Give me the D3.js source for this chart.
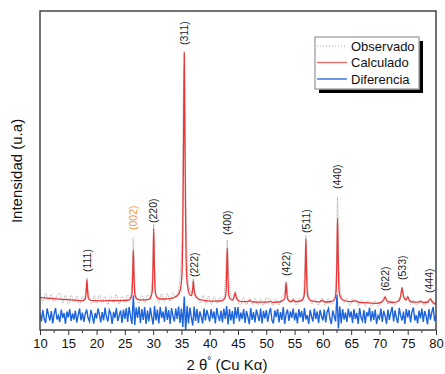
<!DOCTYPE html>
<html>
<head>
<meta charset="utf-8">
<script src="https://cdn.jsdelivr.net/npm/d3@7"></script>
<style>
  body { margin: 0; background: #fff; }
  svg text { font-family: "Liberation Sans", Arial, sans-serif; }
</style>
</head>
<body>
<svg id="chart" width="445" height="374"></svg>
<script>
// observed pattern, [2theta, intensity]
const observed = [[10,360],[10.5,280],[11,370],[11.5,290],[12,355],[12.5,275],[13,350],[13.5,365],[14,270],[14.5,345],[15,260],[15.5,350],[16,275],[16.5,340],[17,255],[17.5,335],[17.8,300],[18.1,420],[18.3,520],[18.5,400],[18.8,330],[19.2,255],[19.6,345],[20,260],[20.5,350],[21,270],[21.5,340],[22,255],[22.5,345],[23,270],[23.5,355],[24,260],[24.5,340],[25,275],[25.5,350],[26,300],[26.3,560],[26.5,930],[26.7,520],[27,340],[27.5,270],[28,355],[28.5,275],[29,350],[29.5,330],[29.9,620],[30.1,1060],[30.3,560],[30.6,350],[31,275],[31.5,360],[32,280],[32.5,365],[33,290],[33.5,375],[34,330],[34.6,440],[35.1,900],[35.3,2100],[35.5,2790],[35.7,1700],[36,700],[36.4,420],[36.8,370],[37.1,520],[37.4,360],[37.8,340],[38.3,270],[38.8,345],[39.3,260],[39.8,340],[40.3,255],[40.8,335],[41.3,260],[41.8,330],[42.4,300],[42.8,540],[43.1,900],[43.4,500],[43.8,330],[44.1,290],[44.5,390],[44.9,300],[45.5,250],[46,325],[46.5,250],[47.1,320],[47.6,245],[48,320],[48.5,245],[49,315],[49.5,245],[50,320],[50.7,305],[51.2,245],[51.7,315],[52.2,250],[52.7,320],[53.2,380],[53.5,490],[53.8,360],[54.2,270],[54.8,320],[55.3,250],[55.8,320],[56.4,300],[56.8,620],[57,950],[57.2,600],[57.6,320],[58.1,260],[58.6,315],[59.2,250],[59.9,320],[60.4,245],[61,315],[61.6,255],[62.1,320],[62.4,700],[62.6,1330],[62.8,700],[63.2,360],[63.7,270],[64.2,320],[64.8,245],[65.3,310],[65.8,300],[66.3,240],[66.9,305],[67.5,240],[68,300],[68.6,235],[69.2,295],[69.8,235],[70.4,295],[71,340],[71.5,260],[72,300],[72.6,245],[73.2,300],[73.7,330],[74,430],[74.3,320],[75,340],[75.5,255],[76,300],[76.6,245],[77.3,300],[77.9,240],[78.5,295],[79,320],[79.5,245],[80,280]];

// calculated pattern, [2theta, intensity]
const calculated = [[10,323],[12,316],[14,307],[16,298],[17.5,292],
  [17.8,300],[18.05,317],[18.2,406],[18.3,500],[18.4,406],[18.55,317],[18.8,300],
  [19.5,293],[21,292],[23,293],[25,296],[25.8,302],
  [26,318],[26.25,358],[26.4,574],[26.5,800],[26.6,574],[26.75,358],[27,318],
  [27.6,302],[28.6,302],[29.4,312],
  [29.6,333],[29.85,390],[30,693],[30.1,1010],[30.2,693],[30.35,390],[30.6,333],
  [31.2,310],[32.5,312],[33.5,322],[34.3,345],[34.8,400],[35.1,560],[35.3,1350],[35.4,2100],[35.5,2770],[35.6,2100],[35.7,1350],[35.9,560],[36.2,400],[36.5,350],
  [36.8,345],[36.95,395],[37.05,440],[37.1,490],[37.2,420],[37.35,365],[37.6,330],
  [38.2,305],[39.5,292],[41,288],[42.2,293],[42.6,310],
  [42.85,354],[43,582],[43.1,820],[43.2,582],[43.35,354],[43.6,311],
  [44,300],[44.3,330],[44.5,370],[44.7,325],[45.1,292],[46,283],[46.8,285],[47.1,295],[47.4,283],[48.5,278],[50.3,278],[50.7,288],[51.1,277],[52.3,280],[53,300],
  [53.25,315],[53.4,390],[53.5,470],[53.6,390],[53.75,315],[54,292],
  [54.5,285],[54.8,300],[55.1,284],[56,290],[56.5,310],
  [56.75,364],[56.9,631],[57,910],[57.1,631],[57.25,364],[57.5,315],
  [58,292],[59.4,282],[59.9,295],[60.4,280],[61.5,285],[62.1,310],
  [62.35,394],[62.5,749],[62.6,1120],[62.7,749],[62.85,394],[63.1,328],
  [63.6,300],[64.8,283],[65.8,292],[66.5,276],[68,272],[69.5,266],[70.4,278],[70.8,305],[71,330],[71.2,305],[71.6,280],[72.6,277],[73.4,290],[73.75,340],[73.9,390],[74,420],[74.1,390],[74.3,330],[74.7,300],[75,330],[75.3,295],[75.8,280],[76.8,278],[77.3,285],[77.8,275],[78.6,280],[79,310],[79.4,280],[80,258]];

// difference curve (offset), sampled from 10 deg every 0.25 deg
const diffStart = 10, diffStep = 0.25;
const difference = [
  175,85,200,110,70,215,150,95,190,65,160,220,105,145,80,205,120,170,60,185,
  125,210,90,165,105,195,75,150,215,95,175,80,160,205,120,85,200,140,65,170,
  115,215,155,75,180,95,225,130,85,200,165,60,180,120,220,90,145,195,70,205,
  110,220,80,230,140,60,345,50,225,120,235,70,210,100,230,60,195,85,225,130,
  55,240,95,205,65,230,120,185,80,235,100,200,60,220,140,85,215,110,235,70,
  215,30,335,-10,240,65,225,125,45,235,90,210,70,185,135,65,215,95,200,140,
  85,210,115,185,65,220,140,90,195,75,215,110,240,55,210,95,190,60,230,115,
  230,85,175,110,210,70,190,130,60,220,100,180,75,205,145,90,215,65,190,115,
  200,80,170,220,100,65,195,130,210,75,180,100,230,60,160,205,90,185,120,215,
  95,175,65,210,125,190,80,220,105,150,60,200,135,85,215,110,185,70,200,140,
  95,205,75,180,215,115,60,195,140,85,355,15,235,65,210,105,175,80,215,125,
  185,70,210,110,170,60,220,125,90,200,65,180,135,225,85,190,100,205,60,145,
  115,215,80,190,140,60,205,100,175,230,85,195,120,70,220,145,95,185,60,210,
  125,200,75,180,225,95,150,65,195,115,215,80,190,140,55,210,105,175,230,90,
  150];

// reflections: label, 2theta, intensity where the label starts
const hkl = ["(111)","(002)","(220)","(311)","(222)","(400)","(422)","(511)","(440)","(622)","(533)","(444)"];
const hklPos = [18.3, 26.5, 30.1, 35.5, 37.2, 43.1, 53.5, 57.0, 62.6, 71.0, 74.0, 78.9];
const hklLabelAt = [580, 1000, 1070, 2850, 530, 950, 540, 970, 1410, 390, 500, 370];

const xTicks = d3.range(10, 81, 5);
const legendNames = ["Observado", "Calculado", "Diferencia"];

const svg = d3.select("#chart");
const [pLeft, pRight, pTop, pBottom] = [40, 436, 11, 330];

const x = d3.scaleLinear().domain([10, 80]).range([pLeft, pRight]);
const y = d3.scaleLinear().domain([0, 3190]).range([pBottom, pTop]);

svg.append("clipPath").attr("id", "clip")
  .append("rect").attr("x", pLeft).attr("y", pTop).attr("width", pRight - pLeft).attr("height", pBottom - pTop);

const plot = svg.append("g").attr("clip-path", "url(#clip)");

// observed (dotted grey)
plot.append("path").datum(observed)
  .attr("d", d3.line().x(d => x(d[0])).y(d => y(d[1])).curve(d3.curveMonotoneX))
  .attr("fill", "none").attr("stroke", "#aaa").attr("stroke-width", 1)
  .attr("stroke-dasharray", "1,1");

// difference (blue)
plot.append("path").datum(difference.map((v, i) => [diffStart + i * diffStep, v]))
  .attr("d", d3.line().x(d => x(d[0])).y(d => y(d[1])))
  .attr("fill", "none").attr("stroke", "#1c64dc").attr("stroke-width", 1.4);

// calculated (red)
plot.append("path").datum(calculated)
  .attr("d", d3.line().x(d => x(d[0])).y(d => y(d[1])).curve(d3.curveMonotoneX))
  .attr("fill", "none").attr("stroke", "#ee3535").attr("stroke-width", 1.3);

// reflection labels
hkl.forEach((t, i) => {
  const px = x(hklPos[i]), py = y(hklLabelAt[i]);
  svg.append("text")
    .attr("transform", `translate(${px},${py}) rotate(-90)`)
    .attr("dy", "0.35em")
    .attr("font-size", 10.5)
    .attr("fill", t === "(002)" ? "#f39a3c" : "#222")
    .text(t);
});

// x axis
const xAxis = d3.axisBottom(x).tickValues(xTicks).tickSize(5).tickPadding(4).tickFormat(d3.format("d"));
const gx = svg.append("g").attr("transform", `translate(0,${pBottom})`).call(xAxis);
gx.select(".domain").remove();
gx.selectAll("line").attr("stroke", "#333");
gx.selectAll("text").attr("font-size", 13).attr("fill", "#111")
  .attr("font-family", "'Liberation Sans', Arial, sans-serif");
svg.append("g").attr("transform", `translate(0,${pBottom})`)
  .selectAll("line").data(d3.range(12.5, 80, 5)).enter().append("line")
  .attr("x1", d => x(d)).attr("x2", d => x(d)).attr("y1", 0).attr("y2", 3)
  .attr("stroke", "#333");

// frame
svg.append("rect").attr("x", pLeft).attr("y", pTop).attr("width", pRight - pLeft).attr("height", pBottom - pTop)
  .attr("fill", "none").attr("stroke", "#444").attr("stroke-width", 1.5);

// axis titles
const xt = svg.append("text").attr("x", 227).attr("y", 370).attr("text-anchor", "middle")
  .attr("font-size", 15).attr("fill", "#111");
xt.append("tspan").text("2 θ");
xt.append("tspan").attr("font-size", 10).attr("dy", -6).text("°");
xt.append("tspan").attr("dy", 6).text(" (Cu Kα)");

svg.append("text").attr("transform", "translate(22,171) rotate(-90)")
  .attr("text-anchor", "middle").attr("font-size", 15).attr("fill", "#111")
  .text("Intensidad (u.a)");

// legend
const lg = svg.append("g").attr("transform", "translate(315,37)");
lg.append("rect").attr("x", 4).attr("y", 4).attr("width", 104).attr("height", 52).attr("fill", "#000");
lg.append("rect").attr("x", 0).attr("y", 0).attr("width", 104).attr("height", 52)
  .attr("fill", "#fff").attr("stroke", "#aaa").attr("stroke-width", 1.5);
const legendStyle = [
  {stroke: "#c8c8c8", dash: "1,2"},
  {stroke: "#f07070", dash: null},
  {stroke: "#3a7ae0", dash: null}
];
legendNames.forEach((n, i) => {
  const ly = 9 + i * 16.5;
  lg.append("line").attr("x1", 2).attr("x2", 32).attr("y1", ly).attr("y2", ly)
    .attr("stroke", legendStyle[i].stroke).attr("stroke-width", 1.5)
    .attr("stroke-dasharray", legendStyle[i].dash);
  lg.append("text").attr("x", 36).attr("y", ly).attr("dy", "0.35em")
    .attr("font-size", 13).attr("fill", "#111").text(n);
});
</script>
</body>
</html>
